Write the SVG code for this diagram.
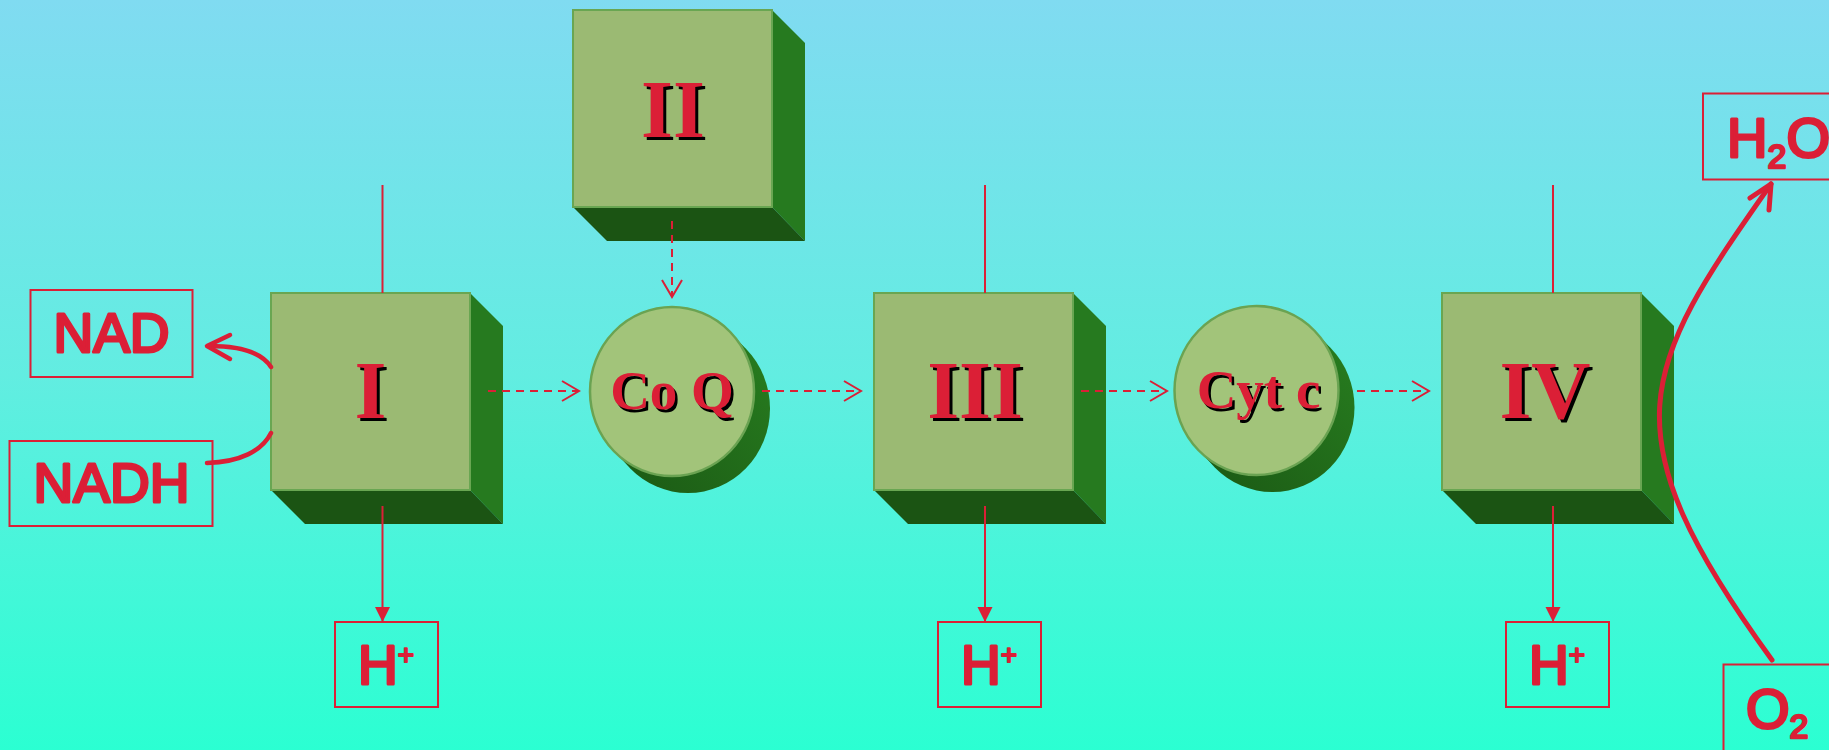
<svg xmlns="http://www.w3.org/2000/svg" xmlns:xlink="http://www.w3.org/1999/xlink" width="1829" height="750" viewBox="0 0 1829 750">
<defs>
  <linearGradient id="bg" x1="0" y1="0" x2="0" y2="1">
    <stop offset="0" stop-color="#80DBF1"/>
    <stop offset="0.5" stop-color="#62EDE1"/>
    <stop offset="1" stop-color="#2BFFD2"/>
  </linearGradient>
  <linearGradient id="shade" x1="1" y1="0" x2="0" y2="1">
    <stop offset="0" stop-color="#287F20"/>
    <stop offset="1" stop-color="#1B5814"/>
  </linearGradient>
  <g id="cube">
    <polygon points="199,0 232,33 232,231 199,197" fill="#267A1F"/>
    <polygon points="0,197 199,197 232,231 34,231" fill="#1B5413"/>
    <rect x="0" y="0" width="199" height="197" fill="#9BBA73" stroke="#69A652" stroke-width="2"/>
  </g>
  <g id="disc">
    <ellipse cx="16" cy="17" rx="82" ry="84.5" fill="url(#shade)"/>
    <ellipse cx="8" cy="8.5" rx="82" ry="84.5" fill="url(#shade)"/>
    <ellipse cx="0" cy="0" rx="82" ry="84.5" fill="#A2C47A" stroke="#6AA352" stroke-width="2.5"/>
  </g>
  <marker id="open" markerUnits="userSpaceOnUse" markerWidth="40" markerHeight="40" viewBox="-20 -20 40 40" refX="0" refY="0" orient="auto" overflow="visible">
    <path d="M-17,-10 L0,0 L-17,10" fill="none" stroke="#DB1F36" stroke-width="2"/>
  </marker>
  <marker id="solid" markerUnits="userSpaceOnUse" markerWidth="40" markerHeight="40" viewBox="-20 -20 40 40" refX="0" refY="0" orient="auto" overflow="visible">
    <path d="M-15,-7.5 L0,0 L-15,7.5 Z" fill="#DB1F36"/>
  </marker>
</defs>
<style>
  .roman { font-family: "Liberation Serif", serif; font-weight: bold; font-size: 82px; text-anchor: middle; }
  .disclbl { font-family: "Liberation Serif", serif; font-weight: bold; font-size: 55px; text-anchor: middle; }
  .red { fill: #DB1F36; }
  .blk { fill: #000; }
  .hand { font-family: "Liberation Sans", "DejaVu Sans", sans-serif; font-weight: normal; fill: #DB1F36; stroke: #DB1F36; stroke-width: 3; stroke-linejoin: round; stroke-linecap: round; }
  .lbox { fill: none; stroke: #DB1F36; stroke-width: 2; }
  .dash { fill: none; stroke: #DB1F36; stroke-width: 2; stroke-dasharray: 8 6; marker-end: url(#open); }
  .vline { fill: none; stroke: #DB1F36; stroke-width: 2; }
  .thick { fill: none; stroke: #DB1F36; stroke-width: 4.5; stroke-linecap: round; stroke-linejoin: round; }
</style>
<rect x="0" y="0" width="1829" height="750" fill="url(#bg)"/>

<g id="node-I">
  <use xlink:href="#cube" href="#cube" transform="translate(271,293)"/>
  <text class="roman blk" x="373.5" y="421">I</text>
  <text class="roman red" x="370.5" y="418">I</text>
</g>
<g id="node-II">
  <use xlink:href="#cube" href="#cube" transform="translate(573,10)"/>
  <text class="roman blk" x="676" y="140">II</text>
  <text class="roman red" x="673" y="137">II</text>
</g>
<g id="node-CoQ">
  <use xlink:href="#disc" href="#disc" transform="translate(672,391.5)"/>
  <text class="disclbl blk" x="674.5" y="411.5">Co Q</text>
  <text class="disclbl red" x="672" y="409">Co Q</text>
</g>
<g id="node-III">
  <use xlink:href="#cube" href="#cube" transform="translate(874,293)"/>
  <text class="roman blk" x="978" y="421">III</text>
  <text class="roman red" x="975" y="418">III</text>
</g>
<g id="node-Cytc">
  <use xlink:href="#disc" href="#disc" transform="translate(1256.5,390.5)"/>
  <text class="disclbl blk" x="1261" y="410.5">Cyt c</text>
  <text class="disclbl red" x="1258.5" y="408">Cyt c</text>
</g>
<g id="node-IV">
  <use xlink:href="#cube" href="#cube" transform="translate(1442,293)"/>
  <text class="roman blk" x="1548" y="421">IV</text>
  <text class="roman red" x="1545" y="418">IV</text>
</g>

<g id="node-NAD">
  <rect class="lbox" x="30.5" y="290" width="162" height="87"/>
  <text class="hand" x="111.5" y="352" font-size="55" text-anchor="middle">NAD</text>
</g>
<g id="node-NADH">
  <rect class="lbox" x="9.5" y="441" width="203" height="85"/>
  <text class="hand" x="111.5" y="502" font-size="55" text-anchor="middle">NADH</text>
</g>
<g id="node-H1">
  <rect class="lbox" x="335" y="622" width="103" height="85"/>
  <text class="hand" x="358" y="684" font-size="55">H<tspan font-size="28" dy="-20" style="stroke-width:2">+</tspan></text>
</g>
<g id="node-H2">
  <rect class="lbox" x="938" y="622" width="103" height="85"/>
  <text class="hand" x="961" y="684" font-size="55">H<tspan font-size="28" dy="-20" style="stroke-width:2">+</tspan></text>
</g>
<g id="node-H3">
  <rect class="lbox" x="1506" y="622" width="103" height="85"/>
  <text class="hand" x="1529" y="684" font-size="55">H<tspan font-size="28" dy="-20" style="stroke-width:2">+</tspan></text>
</g>
<g id="node-H2O">
  <rect class="lbox" x="1703" y="93.5" width="140" height="86"/>
  <text class="hand" x="1727" y="157" font-size="56">H<tspan font-size="34" dy="11" style="stroke-width:2.5">2</tspan><tspan dy="-11">O</tspan></text>
</g>
<g id="node-O2">
  <rect class="lbox" x="1723.5" y="664.5" width="120" height="100"/>
  <text class="hand" x="1746" y="728" font-size="56">O<tspan font-size="34" dy="10" style="stroke-width:2.5">2</tspan></text>
</g>

<g id="connectors">
  <path class="thick" d="M207,463 C240,462 262,451 271,433"/>
  <path class="thick" d="M271,367 C262,353 240,346 209,346"/>
  <path class="thick" d="M230,335 L207,346 L230,359"/>

  <path class="dash" d="M488,391 H579"/>
  <path class="dash" d="M762,391 H861"/>
  <path class="dash" d="M1081,391 H1167"/>
  <path class="dash" d="M1357,391 H1429"/>
  <path class="dash" d="M672,221 V297"/>

  <path class="vline" d="M382.5,185 V293"/>
  <path class="vline" d="M382.5,506 V622" marker-end="url(#solid)"/>
  <path class="vline" d="M985,185 V293"/>
  <path class="vline" d="M985,506 V622" marker-end="url(#solid)"/>
  <path class="vline" d="M1553,185 V293"/>
  <path class="vline" d="M1553,506 V622" marker-end="url(#solid)"/>

  <path class="thick" style="stroke-width:5" d="M1772,660 C1605,430 1640,370 1771,184"/>
  <path class="thick" style="stroke-width:5" d="M1750,198 L1771,184 L1769,210"/>
</g>
</svg>
